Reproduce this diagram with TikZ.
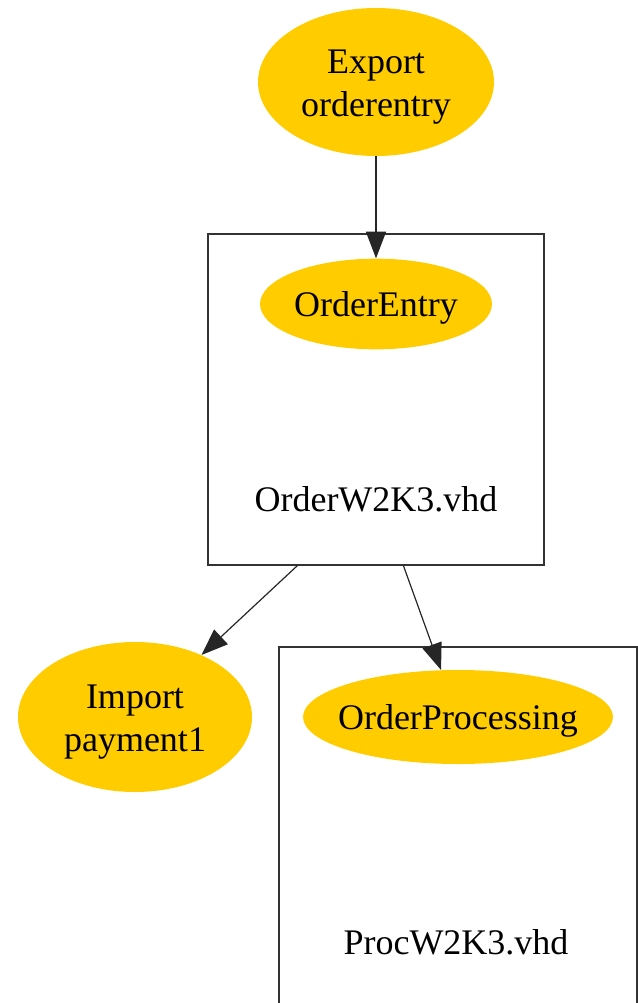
\documentclass[tikz,border=0pt]{standalone}
\usepackage{fontspec}
\setmainfont{Liberation Serif}
\usetikzlibrary{shapes.geometric,arrows.meta,calc}
\definecolor{nodegold}{HTML}{FFCC00}
\begin{document}
\begin{tikzpicture}[x=0.75pt,y=-0.75pt,
  oval/.style={ellipse,fill=nodegold,inner sep=0pt},
  cluster/.style={draw=black!80,line width=0.9pt,inner sep=0pt},
  lbl/.style={inner sep=0pt,align=center,font=\fontsize{27}{32}\selectfont},
  link/.style={draw=black!85,line width=0.9pt,-{Triangle[length=20pt,width=15pt]}}]
\useasboundingbox (0,0) rectangle (638,1003);

% clusters
\node[cluster,minimum width=252pt,minimum height=248.25pt] (box1) at (376,399.5) {};
\node[cluster,minimum width=268.5pt,minimum height=274.5pt] (box2) at (458,830) {};
\node[lbl] (f1) at (376,499) {OrderW2K3.vhd};
\node[lbl] (f2) at (456,942) {ProcW2K3.vhd};

% nodes
\node[oval,minimum width=177pt,minimum height=111pt] (exp) at (376,82) {};
\node[oval,minimum width=174pt,minimum height=68pt] (oe) at (376,304) {};
\node[oval,minimum width=175.5pt,minimum height=112.5pt] (imp) at (135,717) {};
\node[oval,minimum width=232.5pt,minimum height=70.5pt] (proc) at (458,717) {};

% node texts
\node[lbl] (expt) at ($(exp)+(0,5)$) {Export\\orderentry};
\node[lbl] (oet) at ($(oe)+(0,4)$) {OrderEntry};
\node[lbl] (impt) at ($(imp)+(0,5)$) {Import\\payment1};
\node[lbl] (proct) at ($(proc)+(0,4)$) {OrderProcessing};

% edges
\coordinate (t1) at ($(box1.south west)+(90,0)$);
\coordinate (t2) at ($(box1.south west)+(196,0)$);
\draw[link] (exp) -- (oe);
\draw[link] (t1) -- (imp);
\draw[link] (t2) -- (proc);
\end{tikzpicture}
\end{document}
